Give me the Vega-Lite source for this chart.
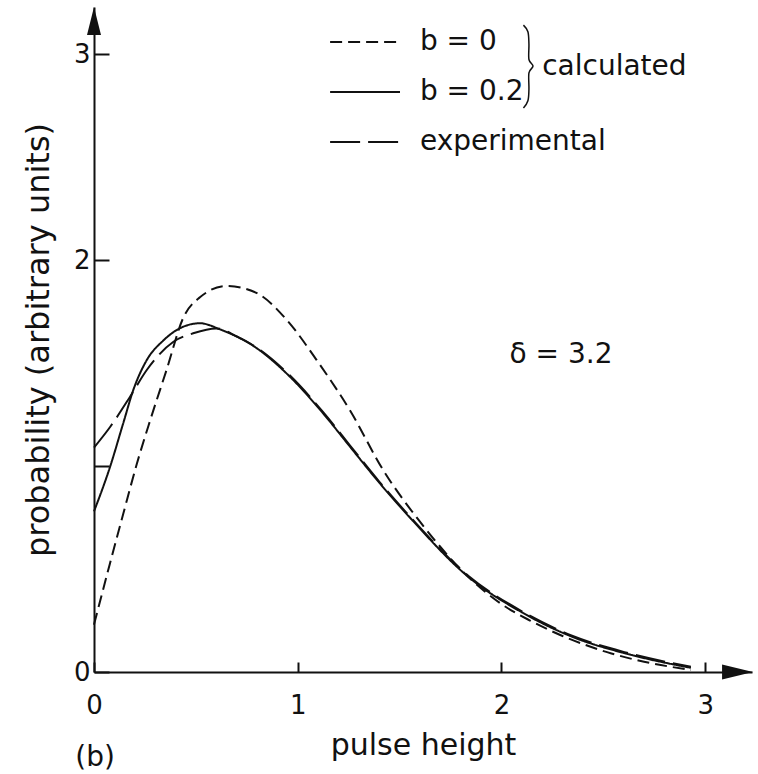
{
  "$schema": "https://vega.github.io/schema/vega-lite/v6.json",
  "width": 658,
  "height": 665,
  "autosize": {"type": "none"},
  "padding": {"left": 94, "top": 7, "right": 6, "bottom": 102},
  "background": "white",
  "config": {
    "view": {"stroke": null},
    "font": "DejaVu Sans",
    "axis": {
      "grid": false,
      "domainColor": "#111",
      "domainWidth": 2,
      "tickColor": "#111",
      "tickWidth": 2,
      "labelColor": "#111",
      "titleColor": "#111",
      "labelFont": "DejaVu Sans",
      "titleFont": "DejaVu Sans",
      "labelFontSize": 26,
      "titleFontSize": 30,
      "titleFontWeight": "normal"
    }
  },
  "datasets": {
    "curves": [
      {"series": "b = 0", "seg": "b0", "x": 0.0, "y": 0.23},
      {"series": "b = 0", "seg": "b0", "x": 0.079, "y": 0.53},
      {"series": "b = 0", "seg": "b0", "x": 0.144, "y": 0.77},
      {"series": "b = 0", "seg": "b0", "x": 0.21, "y": 1.01},
      {"series": "b = 0", "seg": "b0", "x": 0.275, "y": 1.22},
      {"series": "b = 0", "seg": "b0", "x": 0.357, "y": 1.47},
      {"series": "b = 0", "seg": "b0", "x": 0.438, "y": 1.72},
      {"series": "b = 0", "seg": "b0", "x": 0.52, "y": 1.82},
      {"series": "b = 0", "seg": "b0", "x": 0.651, "y": 1.875},
      {"series": "b = 0", "seg": "b0", "x": 0.8, "y": 1.84},
      {"series": "b = 0", "seg": "b0", "x": 0.946, "y": 1.71},
      {"series": "b = 0", "seg": "b0", "x": 1.093, "y": 1.515},
      {"series": "b = 0", "seg": "b0", "x": 1.257, "y": 1.27},
      {"series": "b = 0", "seg": "b0", "x": 1.42, "y": 0.98},
      {"series": "b = 0", "seg": "b0", "x": 1.6, "y": 0.73},
      {"series": "b = 0", "seg": "b0", "x": 1.84, "y": 0.46},
      {"series": "b = 0", "seg": "b0", "x": 2.0, "y": 0.33},
      {"series": "b = 0", "seg": "b0", "x": 2.14, "y": 0.25},
      {"series": "b = 0", "seg": "b0", "x": 2.3, "y": 0.175},
      {"series": "b = 0", "seg": "b0", "x": 2.54, "y": 0.09},
      {"series": "b = 0", "seg": "b0", "x": 2.7, "y": 0.05},
      {"series": "b = 0", "seg": "b0", "x": 2.93, "y": 0.01},

      {"series": "b = 0.2", "seg": "b02", "x": 0.0, "y": 0.78},
      {"series": "b = 0.2", "seg": "b02", "x": 0.079, "y": 0.997},
      {"series": "b = 0.2", "seg": "b02", "x": 0.144, "y": 1.21},
      {"series": "b = 0.2", "seg": "b02", "x": 0.193, "y": 1.37},
      {"series": "b = 0.2", "seg": "b02", "x": 0.259, "y": 1.515},
      {"series": "b = 0.2", "seg": "b02", "x": 0.34, "y": 1.61},
      {"series": "b = 0.2", "seg": "b02", "x": 0.438, "y": 1.677},
      {"series": "b = 0.2", "seg": "b02", "x": 0.52, "y": 1.694},
      {"series": "b = 0.2", "seg": "b02", "x": 0.619, "y": 1.664},
      {"series": "b = 0.2", "seg": "b02", "x": 0.8, "y": 1.572},
      {"series": "b = 0.2", "seg": "b02", "x": 0.962, "y": 1.434},
      {"series": "b = 0.2", "seg": "b02", "x": 1.125, "y": 1.256},
      {"series": "b = 0.2", "seg": "b02", "x": 1.257, "y": 1.094},
      {"series": "b = 0.2", "seg": "b02", "x": 1.4, "y": 0.92},
      {"series": "b = 0.2", "seg": "b02", "x": 1.56, "y": 0.74},
      {"series": "b = 0.2", "seg": "b02", "x": 1.84, "y": 0.46},
      {"series": "b = 0.2", "seg": "b02", "x": 2.1, "y": 0.29},
      {"series": "b = 0.2", "seg": "b02", "x": 2.35, "y": 0.17},
      {"series": "b = 0.2", "seg": "b02", "x": 2.61, "y": 0.09},
      {"series": "b = 0.2", "seg": "b02", "x": 2.93, "y": 0.02},

      {"series": "experimental", "seg": "exp", "x": 0.0, "y": 1.09},
      {"series": "experimental", "seg": "exp", "x": 0.079, "y": 1.19},
      {"series": "experimental", "seg": "exp", "x": 0.177, "y": 1.337},
      {"series": "experimental", "seg": "exp", "x": 0.259, "y": 1.467},
      {"series": "experimental", "seg": "exp", "x": 0.39, "y": 1.604},
      {"series": "experimental", "seg": "exp", "x": 0.487, "y": 1.645},
      {"series": "experimental", "seg": "exp", "x": 0.6, "y": 1.669},
      {"series": "experimental", "seg": "exp", "x": 0.7, "y": 1.63},
      {"series": "experimental", "seg": "exp", "x": 0.8, "y": 1.575},
      {"series": "experimental", "seg": "exp", "x": 0.962, "y": 1.44},
      {"series": "experimental", "seg": "exp", "x": 1.125, "y": 1.262},
      {"series": "experimental", "seg": "exp", "x": 1.257, "y": 1.1},
      {"series": "experimental", "seg": "exp", "x": 1.4, "y": 0.925},
      {"series": "experimental", "seg": "exp", "x": 1.56, "y": 0.745},
      {"series": "experimental", "seg": "exp", "x": 1.84, "y": 0.465},
      {"series": "experimental", "seg": "exp", "x": 2.1, "y": 0.295},
      {"series": "experimental", "seg": "exp", "x": 2.35, "y": 0.175},
      {"series": "experimental", "seg": "exp", "x": 2.61, "y": 0.095},
      {"series": "experimental", "seg": "exp", "x": 2.93, "y": 0.025},

      {"series": "b = 0", "seg": "b0_key", "x": 1.159, "y": 3.06},
      {"series": "b = 0", "seg": "b0_key", "x": 1.502, "y": 3.06},
      {"series": "b = 0.2", "seg": "b02_key", "x": 1.159, "y": 2.817},
      {"series": "b = 0.2", "seg": "b02_key", "x": 1.502, "y": 2.817},
      {"series": "experimental", "seg": "exp_key", "x": 1.159, "y": 2.574},
      {"series": "experimental", "seg": "exp_key", "x": 1.502, "y": 2.574}
    ],
    "brace": [
      {"i": 1, "x": 2.108, "y": 3.142},
      {"i": 2, "x": 2.13, "y": 3.11},
      {"i": 3, "x": 2.135, "y": 3.05},
      {"i": 4, "x": 2.135, "y": 2.975},
      {"i": 5, "x": 2.155, "y": 2.943},
      {"i": 6, "x": 2.135, "y": 2.91},
      {"i": 7, "x": 2.135, "y": 2.83},
      {"i": 8, "x": 2.13, "y": 2.775},
      {"i": 9, "x": 2.108, "y": 2.739}
    ],
    "legendText": [
      {"text": "b = 0", "x": 1.6, "y": 3.06},
      {"text": "b = 0.2", "x": 1.6, "y": 2.817},
      {"text": "experimental", "x": 1.6, "y": 2.574},
      {"text": "calculated", "x": 2.2, "y": 2.94}
    ],
    "delta": [{"text": "δ = 3.2", "x": 2.04, "y": 1.54}],
    "panel": [{"text": "(b)", "x": 0.005, "y": -0.418}],
    "yArrow": [{"x": 0, "y": 3.162}],
    "xArrow": [{"x": 3.159, "y": 0}]
  },
  "layer": [
    {
      "data": {"name": "curves"},
      "mark": {"type": "line", "interpolate": "monotone", "color": "#111", "strokeWidth": 2},
      "encoding": {
        "x": {
          "field": "x", "type": "quantitative",
          "scale": {"domain": [0, 3.23], "nice": false, "zero": false},
          "axis": {
            "title": "pulse height",
            "values": [0, 1, 2, 3],
            "format": "d",
            "tickSize": -10,
            "labelPadding": 30,
            "labelFlush": false,
            "titlePadding": 12
          }
        },
        "y": {
          "field": "y", "type": "quantitative",
          "scale": {"domain": [0, 3.23], "nice": false, "zero": false},
          "axis": {
            "title": "probability (arbitrary units)",
            "titleFontSize": 32,
            "values": [0, 1, 2, 3],
            "format": "d",
            "labelExpr": "datum.value == 1 ? '' : datum.label",
            "tickSize": -15,
            "labelPadding": 19,
            "labelFlush": false,
            "titlePadding": 18
          }
        },
        "detail": {"field": "seg"},
        "strokeDash": {
          "field": "series", "type": "nominal",
          "scale": {"domain": ["b = 0", "b = 0.2", "experimental"], "range": [[12, 6], [1, 0], [30, 8]]},
          "legend": null
        }
      }
    },
    {
      "data": {"name": "brace"},
      "mark": {"type": "line", "interpolate": "cardinal", "color": "#111", "strokeWidth": 1.5},
      "encoding": {
        "x": {"field": "x", "type": "quantitative"},
        "y": {"field": "y", "type": "quantitative"},
        "order": {"field": "i", "type": "quantitative"}
      }
    },
    {
      "data": {"name": "yArrow"},
      "mark": {"type": "point", "shape": "M0,-1L0.5,1L-0.5,1Z", "filled": true, "color": "#111", "opacity": 1, "size": 784},
      "encoding": {
        "x": {"field": "x", "type": "quantitative"},
        "y": {"field": "y", "type": "quantitative"}
      }
    },
    {
      "data": {"name": "xArrow"},
      "mark": {"type": "point", "shape": "M1,0L-1,-0.48L-1,0.48Z", "filled": true, "color": "#111", "opacity": 1, "size": 961},
      "encoding": {
        "x": {"field": "x", "type": "quantitative"},
        "y": {"field": "y", "type": "quantitative"}
      }
    },
    {
      "data": {"name": "legendText"},
      "mark": {"type": "text", "align": "left", "baseline": "middle", "fontSize": 28, "color": "#111"},
      "encoding": {
        "x": {"field": "x", "type": "quantitative"},
        "y": {"field": "y", "type": "quantitative"},
        "text": {"field": "text"}
      }
    },
    {
      "data": {"name": "delta"},
      "mark": {"type": "text", "align": "left", "baseline": "middle", "fontSize": 28, "color": "#111"},
      "encoding": {
        "x": {"field": "x", "type": "quantitative"},
        "y": {"field": "y", "type": "quantitative"},
        "text": {"field": "text"}
      }
    },
    {
      "data": {"name": "panel"},
      "mark": {"type": "text", "align": "center", "baseline": "middle", "fontSize": 28, "color": "#111"},
      "encoding": {
        "x": {"field": "x", "type": "quantitative"},
        "y": {"field": "y", "type": "quantitative"},
        "text": {"field": "text"}
      }
    }
  ]
}
